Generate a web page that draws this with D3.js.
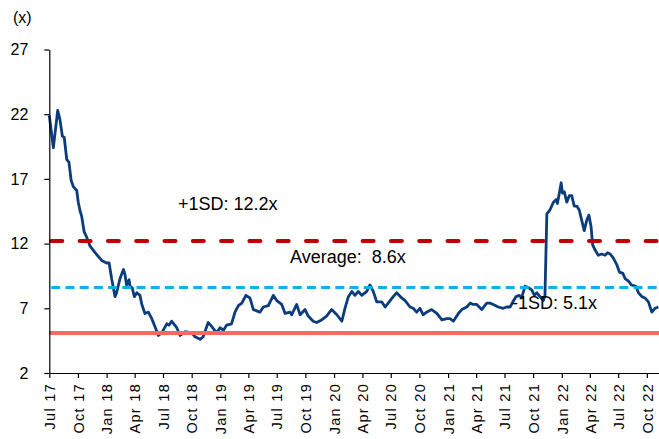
<!DOCTYPE html>
<html>
<head>
<meta charset="utf-8">
<script src="https://cdn.jsdelivr.net/npm/d3@7"></script>
<style>
  html, body { margin: 0; padding: 0; background: #fff; }
  svg { display: block; font-family: "Liberation Sans", Arial, sans-serif; }
</style>
</head>
<body>
<svg id="chart" width="659" height="439"></svg>
<script>
// Forward P/E multiple, Jul 2017 – Nov 2022
const dates = [
  "2017-07-01","2017-07-14","2017-07-28","2017-08-04","2017-08-12","2017-08-18","2017-08-26","2017-09-02",
  "2017-09-09","2017-09-16","2017-09-27","2017-10-02","2017-10-08","2017-10-13","2017-10-21","2017-10-29",
  "2017-11-09","2017-11-25","2017-12-16","2018-01-01","2018-01-09","2018-01-17","2018-01-28","2018-02-02",
  "2018-02-13","2018-02-24","2018-03-01","2018-03-06","2018-03-14","2018-03-17","2018-03-24","2018-03-31",
  "2018-04-08","2018-04-18","2018-04-24","2018-05-04","2018-05-15","2018-05-26","2018-06-05","2018-06-16",
  "2018-06-27","2018-07-13","2018-07-20","2018-07-29","2018-08-14","2018-08-25","2018-09-10","2018-10-01",
  "2018-10-12","2018-10-28","2018-11-07","2018-11-23","2018-12-04","2018-12-20","2018-12-31","2019-01-11",
  "2019-01-21","2019-02-06","2019-02-17","2019-02-28","2019-03-11","2019-03-24","2019-04-06","2019-04-17",
  "2019-04-28","2019-05-08","2019-05-19","2019-06-04","2019-06-20","2019-07-01","2019-07-17","2019-07-28",
  "2019-08-13","2019-08-18","2019-09-03","2019-09-14","2019-09-30","2019-10-10","2019-10-26","2019-11-06",
  "2019-11-22","2019-12-08","2019-12-24","2020-01-10","2020-01-26","2020-02-05","2020-02-16","2020-02-27",
  "2020-03-08","2020-03-19","2020-03-30","2020-04-15","2020-04-25","2020-05-06","2020-05-17","2020-06-02",
  "2020-06-13","2020-06-29","2020-07-09","2020-07-20","2020-08-05","2020-08-16","2020-09-01","2020-09-11",
  "2020-09-22","2020-10-03","2020-10-13","2020-10-24","2020-11-09","2020-11-26","2020-12-12","2020-12-28",
  "2021-01-07","2021-01-18","2021-02-03","2021-02-14","2021-03-02","2021-03-13","2021-03-23","2021-04-03",
  "2021-04-19","2021-05-05","2021-05-16","2021-05-26","2021-06-11","2021-06-27","2021-07-08","2021-07-19",
  "2021-07-28","2021-08-07","2021-08-18","2021-08-25","2021-09-05","2021-09-16","2021-09-27","2021-10-05",
  "2021-10-13","2021-10-23","2021-11-03","2021-11-08","2021-11-14","2021-11-24","2021-12-05","2021-12-14",
  "2021-12-18","2021-12-24","2021-12-30","2022-01-03","2022-01-09","2022-01-17","2022-01-25","2022-02-02",
  "2022-02-10","2022-02-18","2022-02-26","2022-03-06","2022-03-14","2022-03-22","2022-03-29","2022-04-05",
  "2022-04-10","2022-04-18","2022-04-28","2022-05-09","2022-05-20","2022-05-28","2022-06-05","2022-06-15",
  "2022-06-26","2022-07-05","2022-07-16","2022-07-23","2022-08-03","2022-08-13","2022-08-27","2022-09-04",
  "2022-09-15","2022-09-25","2022-10-06","2022-10-17","2022-10-27","2022-11-07"
];
const peValues = [
  21.9,19.4,22.3,21.6,20.3,20.2,18.5,18.3,
  16.9,16.4,16.1,15.2,14.5,14.1,12.9,12.5,
  11.8,11.3,10.7,10.5,10.5,9.3,7.9,8.2,
  9.3,10.0,9.6,8.8,9.2,8.7,8.6,7.9,
  8.2,8.0,7.3,6.6,6.7,6.2,5.6,4.9,
  5.1,5.8,5.7,6.0,5.5,4.9,5.2,5.1,
  4.8,4.6,4.8,5.9,5.6,5.1,5.5,5.3,
  5.7,5.8,6.7,7.2,7.4,8.0,7.8,6.9,
  6.8,6.7,7.1,7.2,8.0,7.6,7.3,6.6,
  6.7,6.5,7.3,6.5,6.9,6.4,6.0,5.9,
  6.1,6.4,6.9,6.5,6.0,7.0,7.9,8.3,
  8.0,8.3,8.0,8.3,8.8,8.3,7.5,7.5,
  7.1,7.6,7.9,8.2,7.8,7.6,7.1,7.0,
  6.7,7.0,6.5,6.7,6.9,6.6,6.1,6.2,
  6.2,6.0,6.6,6.9,7.1,7.4,7.3,7.3,
  6.9,7.4,7.4,7.3,7.1,7.0,7.1,7.1,
  7.5,7.9,8.0,7.8,8.7,8.6,8.4,8.0,
  8.2,7.9,7.6,8.0,14.3,14.6,15.2,15.4,
  15.1,15.9,16.7,15.9,16.0,15.2,15.7,15.7,
  14.9,14.9,14.6,13.8,13.0,13.8,14.2,13.3,
  11.9,11.5,11.1,11.2,11.1,11.3,11.2,10.9,
  10.4,9.8,9.7,9.3,9.1,8.8,8.7,8.2,
  7.9,7.8,7.5,6.7,7.0,7.1
];

// Valuation bands
const bandValues = { plus1SD: 12.2, average: 8.6, minus1SD: 5.1 };
const bandLabels = ["+1SD: 12.2x", "Average:  8.6x", "-1SD: 5.1x"];

const yTicks = [2, 7, 12, 17, 22, 27];
const xTickStart = "2017-07-01";
const xTickEnd = "2022-10-01";
const unitLabel = "(x)";

const parse = d3.timeParse("%Y-%m-%d");
const series = dates.map((d, i) => ({ date: parse(d), value: peValues[i] }));

const svg = d3.select("#chart");
const plot = { left: 49.3, right: 659, top: 49.5, bottom: 373 };

const x = d3.scaleTime()
  .domain([parse("2017-07-01"), parse("2022-11-09")])
  .range([plot.left, plot.right]);
const y = d3.scaleLinear()
  .domain([2, 27])
  .range([plot.bottom, plot.top]);

const g = svg.append("g");

// Price-earnings line
const line = d3.line()
  .x(d => x(d.date))
  .y(d => y(d.value));

g.append("path")
  .datum(series)
  .attr("fill", "none")
  .attr("stroke", "#0b3c7d")
  .attr("stroke-width", 2.8)
  .attr("stroke-linejoin", "round")
  .attr("d", line);

// Valuation band lines
g.append("line")
  .attr("x1", plot.left).attr("x2", plot.right)
  .attr("y1", y(bandValues.minus1SD)).attr("y2", y(bandValues.minus1SD))
  .attr("stroke", "#ff6666").attr("stroke-width", 4);

g.append("line")
  .attr("x1", plot.left + 2).attr("x2", plot.right)
  .attr("y1", y(bandValues.average)).attr("y2", y(bandValues.average))
  .attr("stroke", "#10b0ee").attr("stroke-width", 3)
  .attr("stroke-dasharray", "9,5.2");

g.append("line")
  .attr("x1", plot.left + 2).attr("x2", plot.right)
  .attr("y1", y(bandValues.plus1SD)).attr("y2", y(bandValues.plus1SD))
  .attr("stroke", "#c00000").attr("stroke-width", 4)
  .attr("stroke-linecap", "round")
  .attr("stroke-dasharray", "11,17.3");

// Axes
const xAxis = d3.axisBottom(x)
  .tickValues(d3.timeMonth.every(3).range(parse(xTickStart), d3.timeDay.offset(parse(xTickEnd), 1)))
  .tickFormat(d3.timeFormat("%b %y"))
  .tickSize(5)
  .tickSizeOuter(0);

const xg = svg.append("g")
  .attr("transform", `translate(0,${plot.bottom})`)
  .call(xAxis);
xg.selectAll("text")
  .attr("transform", "rotate(-90)")
  .attr("x", -10)
  .attr("y", 0)
  .attr("dy", "0.36em")
  .style("text-anchor", "end")
  .style("font-size", "14.5px")
  .style("letter-spacing", "1.3px")
  .attr("fill", "#000");

const yAxis = d3.axisLeft(y)
  .tickValues(yTicks)
  .tickSize(5)
  .tickPadding(16)
  .tickSizeOuter(0);

const yg = svg.append("g")
  .attr("transform", `translate(${plot.left},0)`)
  .call(yAxis);
yg.selectAll("text")
  .style("font-size", "16px")
  .attr("fill", "#000");

svg.selectAll(".domain, .tick line").attr("stroke", "#000").attr("stroke-width", 1.2);
svg.selectAll(".tick text").style("font-family", "\"Liberation Sans\", Arial, sans-serif");

// Unit label
svg.append("text")
  .attr("x", 13).attr("y", 23)
  .style("font-size", "16px")
  .text(unitLabel);

// Band annotations
const ann = [
  { text: bandLabels[0], x: 178, y: 210 },
  { text: bandLabels[1], x: 290, y: 263 },
  { text: bandLabels[2], x: 512, y: 309 }
];
svg.selectAll(".ann")
  .data(ann)
  .join("text")
  .attr("class", "ann")
  .attr("x", d => d.x)
  .attr("y", d => d.y)
  .style("font-size", "18px")
  .style("white-space", "pre")
  .attr("xml:space", "preserve")
  .attr("fill", "#000")
  .text(d => d.text);
</script>
</body>
</html>
